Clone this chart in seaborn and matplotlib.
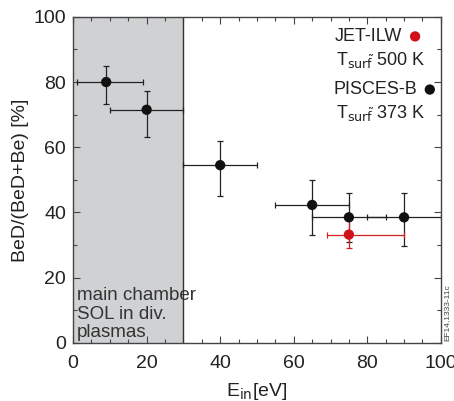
import numpy as np
import pandas as pd
import matplotlib
matplotlib.use("Agg")
import matplotlib.pyplot as plt
import seaborn as sns
from matplotlib.ticker import MultipleLocator

# PISCES-B data
pisces_e = [9, 20, 40, 65, 75, 90]
pisces_frac = [80, 71.5, 54.5, 42.3, 38.5, 38.5]
pisces_yerr_lo = [6.7, 8.4, 9.5, 9.2, 7.5, 8.7]
pisces_yerr_hi = [4.9, 5.9, 7.3, 7.7, 7.6, 7.5]
pisces_xerr_lo = [8, 10, 10, 10, 10, 10]
pisces_xerr_hi = [10, 10, 10, 10, 10, 10]

# JET-ILW data
jet_e = [75]
jet_frac = [33.2]
jet_yerr_lo = [4]
jet_yerr_hi = [5]
jet_xerr_lo = [6]
jet_xerr_hi = [15]

shade_limit = 30

df = pd.DataFrame({"E": pisces_e, "frac": pisces_frac})
df_jet = pd.DataFrame({"E": jet_e, "frac": jet_frac})

sns.set_style("ticks")
plt.rcParams["font.family"] = ["Liberation Sans", "DejaVu Sans"]

fig = plt.figure(figsize=(4.54, 4.01), dpi=100)
ax = fig.add_axes([0.161, 0.145, 0.81, 0.813])

# shaded main-chamber region
ax.axvspan(0, shade_limit, color="#cfd1d3", zorder=0, lw=0)
ax.axvline(shade_limit, color="#333333", lw=1.0, zorder=1)

ax.errorbar(pisces_e, pisces_frac,
            xerr=[pisces_xerr_lo, pisces_xerr_hi],
            yerr=[pisces_yerr_lo, pisces_yerr_hi],
            fmt="none", ecolor="#222222", elinewidth=0.9, capsize=2, capthick=0.9, zorder=2)
ax.errorbar(jet_e, jet_frac,
            xerr=[jet_xerr_lo, jet_xerr_hi],
            yerr=[jet_yerr_lo, jet_yerr_hi],
            fmt="none", ecolor="#d42020", elinewidth=0.9, capsize=2, capthick=0.9, zorder=2)

sns.scatterplot(data=df, x="E", y="frac", ax=ax, color="#111111", s=55,
                edgecolor="none", zorder=3, legend=False)
sns.scatterplot(data=df_jet, x="E", y="frac", ax=ax, color="#d0101a", s=55,
                edgecolor="none", zorder=3, legend=False)

ax.set_xlim(0, 100)
ax.set_ylim(0, 100)
ax.xaxis.set_major_locator(MultipleLocator(20))
ax.xaxis.set_minor_locator(MultipleLocator(5))
ax.yaxis.set_major_locator(MultipleLocator(20))
ax.yaxis.set_minor_locator(MultipleLocator(10))
ax.tick_params(which="both", direction="in", top=True, right=True,
               color="#444444", labelsize=14, labelcolor="#222222")
ax.tick_params(which="major", length=5, width=0.8)
ax.tick_params(axis="x", which="major", pad=9)
ax.tick_params(axis="y", which="major", pad=5)
ax.tick_params(which="minor", length=3, width=0.8)
for sp in ax.spines.values():
    sp.set_color("#444444")
    sp.set_linewidth(1.0)

ax.set_xlabel(r"E$_{\rm in}$[eV]", fontsize=14, color="#222222", labelpad=6)
ax.set_ylabel("BeD/(BeD+Be) [%]", fontsize=14, color="#222222", labelpad=3)

# legend-like annotations
ax.text(0.895, 0.94, "JET-ILW", transform=ax.transAxes, ha="right", va="center",
        fontsize=13, color="#222222")
ax.scatter([0.93], [0.94], transform=ax.transAxes, s=55, color="#d0101a",
           edgecolor="none", clip_on=False)
ax.text(0.715, 0.868, r"T$_{\rm sur\tilde{f}}$ 500 K", transform=ax.transAxes,
        ha="left", va="center", fontsize=13, color="#222222")
ax.text(0.935, 0.777, "PISCES-B", transform=ax.transAxes, ha="right", va="center",
        fontsize=13, color="#222222")
ax.scatter([0.97], [0.777], transform=ax.transAxes, s=55, color="#111111",
           edgecolor="none", clip_on=False)
ax.text(0.715, 0.705, r"T$_{\rm sur\tilde{f}}$ 373 K", transform=ax.transAxes,
        ha="left", va="center", fontsize=13, color="#222222")

ax.text(1.0, 0.5, "main chamber\nSOL in div.\nplasmas", ha="left", va="bottom",
        fontsize=13.5, color="#333333", linespacing=1.12)

fig.text(0.985, 0.22, "EF14,1333-11c", rotation=90, fontsize=6, color="#444444",
         ha="center", va="center")

fig.savefig("out.png", dpi=100, facecolor="white")
